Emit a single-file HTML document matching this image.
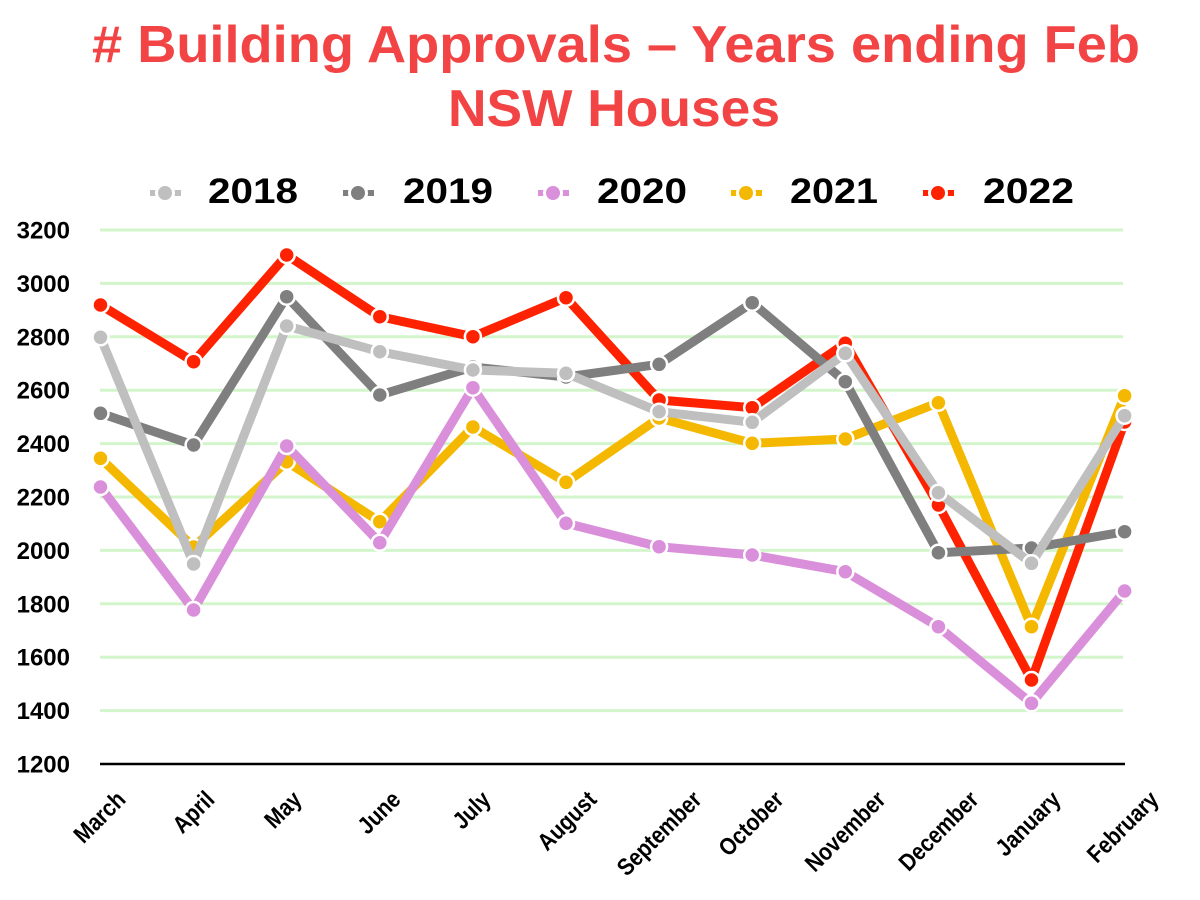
<!DOCTYPE html>
<html>
<head>
<meta charset="utf-8">
<style>
  html, body { margin: 0; padding: 0; background: #ffffff; }
  svg { display: block; }
  text { font-family: "Liberation Sans", Arial, sans-serif; font-weight: bold; }
</style>
</head>
<body>
<svg width="1200" height="900" viewBox="0 0 1200 900" xmlns="http://www.w3.org/2000/svg">
  <rect x="0" y="0" width="1200" height="900" fill="#ffffff"/>

  <!-- Title -->
  <text x="92" y="62" font-size="52" fill="#f24444" textLength="1048" lengthAdjust="spacingAndGlyphs"># Building Approvals – Years ending Feb</text>
  <text x="448" y="126" font-size="52" fill="#f24444" textLength="332" lengthAdjust="spacingAndGlyphs">NSW Houses</text>

  <!-- Legend -->
  <g>
    <line x1="150" y1="193" x2="181" y2="193" stroke="#bfbfbf" stroke-width="6"/>
    <circle cx="165" cy="193" r="8.5" fill="#bfbfbf" stroke="#fff" stroke-width="3"/>
    <text x="208" y="203" font-size="35" fill="#000" textLength="90" lengthAdjust="spacingAndGlyphs">2018</text>

    <line x1="343" y1="193" x2="374" y2="193" stroke="#7f7f7f" stroke-width="6"/>
    <circle cx="358" cy="193" r="8.5" fill="#7f7f7f" stroke="#fff" stroke-width="3"/>
    <text x="403" y="203" font-size="35" fill="#000" textLength="90" lengthAdjust="spacingAndGlyphs">2019</text>

    <line x1="538" y1="193" x2="569" y2="193" stroke="#d98fd9" stroke-width="6"/>
    <circle cx="553" cy="193" r="8.5" fill="#d98fd9" stroke="#fff" stroke-width="3"/>
    <text x="597" y="203" font-size="35" fill="#000" textLength="90" lengthAdjust="spacingAndGlyphs">2020</text>

    <line x1="731" y1="193" x2="762" y2="193" stroke="#f5b800" stroke-width="6"/>
    <circle cx="746" cy="193" r="8.5" fill="#f5b800" stroke="#fff" stroke-width="3"/>
    <text x="790" y="203" font-size="35" fill="#000" textLength="88" lengthAdjust="spacingAndGlyphs">2021</text>

    <line x1="923" y1="193" x2="954" y2="193" stroke="#ff2200" stroke-width="6"/>
    <circle cx="938" cy="193" r="8.5" fill="#ff2200" stroke="#fff" stroke-width="3"/>
    <text x="983" y="203" font-size="35" fill="#000" textLength="91" lengthAdjust="spacingAndGlyphs">2022</text>
  </g>

  <!-- Gridlines -->
  <g stroke="#d3f5cb" stroke-width="3">
    <line x1="100" y1="230" x2="1123" y2="230"/>
    <line x1="100" y1="283.4" x2="1123" y2="283.4"/>
    <line x1="100" y1="336.8" x2="1123" y2="336.8"/>
    <line x1="100" y1="390.2" x2="1123" y2="390.2"/>
    <line x1="100" y1="443.6" x2="1123" y2="443.6"/>
    <line x1="100" y1="497" x2="1123" y2="497"/>
    <line x1="100" y1="550.4" x2="1123" y2="550.4"/>
    <line x1="100" y1="603.8" x2="1123" y2="603.8"/>
    <line x1="100" y1="657.2" x2="1123" y2="657.2"/>
    <line x1="100" y1="710.6" x2="1123" y2="710.6"/>
  </g>
  <line x1="100" y1="764" x2="1125" y2="764" stroke="#000" stroke-width="2.5"/>

  <!-- Y labels -->
  <g font-size="24" fill="#000" text-anchor="end">
    <text x="70" y="238.5">3200</text>
    <text x="70" y="291.9">3000</text>
    <text x="70" y="345.3">2800</text>
    <text x="70" y="398.7">2600</text>
    <text x="70" y="452.1">2400</text>
    <text x="70" y="505.5">2200</text>
    <text x="70" y="558.9">2000</text>
    <text x="70" y="612.3">1800</text>
    <text x="70" y="665.7">1600</text>
    <text x="70" y="719.1">1400</text>
    <text x="70" y="772.5">1200</text>
  </g>

  <!-- X labels -->
  <g font-size="24" fill="#000" text-anchor="end">
    <text transform="translate(127,801) rotate(-45) scale(0.87,1)">March</text>
    <text transform="translate(216,801) rotate(-45) scale(0.87,1)">April</text>
    <text transform="translate(303,801) rotate(-45) scale(0.87,1)">May</text>
    <text transform="translate(402,801) rotate(-45) scale(0.87,1)">June</text>
    <text transform="translate(492,801) rotate(-45) scale(0.87,1)">July</text>
    <text transform="translate(598,801) rotate(-45) scale(0.87,1)">August</text>
    <text transform="translate(703,801) rotate(-45) scale(0.87,1)">September</text>
    <text transform="translate(785,801) rotate(-45) scale(0.87,1)">October</text>
    <text transform="translate(887,801) rotate(-45) scale(0.87,1)">November</text>
    <text transform="translate(980,801) rotate(-45) scale(0.87,1)">December</text>
    <text transform="translate(1062,801) rotate(-45) scale(0.87,1)">January</text>
    <text transform="translate(1160,801) rotate(-45) scale(0.87,1)">February</text>
  </g>

  <!-- Series (drawn 2022 first, 2018 on top) -->
  <!-- 2022 red -->
  <g>
    <polyline fill="none" stroke="#ff2200" stroke-width="9" stroke-linejoin="round"
      points="100.5,305 193.6,361.7 286.7,255 379.8,316.7 472.9,336.7 566,297.7 659.1,400 752.2,407.7 845.3,343.3 938.4,505 1031.5,680 1124.6,422"/>
    <g fill="#ff2200" stroke="#fff" stroke-width="2.5">
      <circle cx="100.5" cy="305" r="8"/><circle cx="193.6" cy="361.7" r="8"/><circle cx="286.7" cy="255" r="8"/>
      <circle cx="379.8" cy="316.7" r="8"/><circle cx="472.9" cy="336.7" r="8"/><circle cx="566" cy="297.7" r="8"/>
      <circle cx="659.1" cy="400" r="8"/><circle cx="752.2" cy="407.7" r="8"/><circle cx="845.3" cy="343.3" r="8"/>
      <circle cx="938.4" cy="505" r="8"/><circle cx="1031.5" cy="680" r="8"/><circle cx="1124.6" cy="422" r="8"/>
    </g>
  </g>
  <!-- 2021 yellow -->
  <g>
    <polyline fill="none" stroke="#f5b800" stroke-width="9" stroke-linejoin="round"
      points="100.5,458.3 193.6,547 286.7,461.7 379.8,521.7 472.9,427 566,482.3 659.1,418 752.2,443.3 845.3,439 938.4,402.7 1031.5,626.7 1124.6,395.7"/>
    <g fill="#f5b800" stroke="#fff" stroke-width="2.5">
      <circle cx="100.5" cy="458.3" r="8"/><circle cx="193.6" cy="547" r="8"/><circle cx="286.7" cy="461.7" r="8"/>
      <circle cx="379.8" cy="521.7" r="8"/><circle cx="472.9" cy="427" r="8"/><circle cx="566" cy="482.3" r="8"/>
      <circle cx="659.1" cy="418" r="8"/><circle cx="752.2" cy="443.3" r="8"/><circle cx="845.3" cy="439" r="8"/>
      <circle cx="938.4" cy="402.7" r="8"/><circle cx="1031.5" cy="626.7" r="8"/><circle cx="1124.6" cy="395.7" r="8"/>
    </g>
  </g>
  <!-- 2020 pink -->
  <g>
    <polyline fill="none" stroke="#d98fd9" stroke-width="9" stroke-linejoin="round"
      points="100.5,487 193.6,610 286.7,446 379.8,542.7 472.9,387.7 566,523.3 659.1,546.7 752.2,555 845.3,571.7 938.4,626.7 1031.5,703.3 1124.6,591"/>
    <g fill="#d98fd9" stroke="#fff" stroke-width="2.5">
      <circle cx="100.5" cy="487" r="8"/><circle cx="193.6" cy="610" r="8"/><circle cx="286.7" cy="446" r="8"/>
      <circle cx="379.8" cy="542.7" r="8"/><circle cx="472.9" cy="387.7" r="8"/><circle cx="566" cy="523.3" r="8"/>
      <circle cx="659.1" cy="546.7" r="8"/><circle cx="752.2" cy="555" r="8"/><circle cx="845.3" cy="571.7" r="8"/>
      <circle cx="938.4" cy="626.7" r="8"/><circle cx="1031.5" cy="703.3" r="8"/><circle cx="1124.6" cy="591" r="8"/>
    </g>
  </g>
  <!-- 2019 dark gray -->
  <g>
    <polyline fill="none" stroke="#7f7f7f" stroke-width="9" stroke-linejoin="round"
      points="100.5,413.3 193.6,445 286.7,296.7 379.8,395 472.9,367 566,377 659.1,364.3 752.2,302.7 845.3,381.7 938.4,552.7 1031.5,548 1124.6,531.7"/>
    <g fill="#7f7f7f" stroke="#fff" stroke-width="2.5">
      <circle cx="100.5" cy="413.3" r="8"/><circle cx="193.6" cy="445" r="8"/><circle cx="286.7" cy="296.7" r="8"/>
      <circle cx="379.8" cy="395" r="8"/><circle cx="472.9" cy="367" r="8"/><circle cx="566" cy="377" r="8"/>
      <circle cx="659.1" cy="364.3" r="8"/><circle cx="752.2" cy="302.7" r="8"/><circle cx="845.3" cy="381.7" r="8"/>
      <circle cx="938.4" cy="552.7" r="8"/><circle cx="1031.5" cy="548" r="8"/><circle cx="1124.6" cy="531.7" r="8"/>
    </g>
  </g>
  <!-- 2018 light gray -->
  <g>
    <polyline fill="none" stroke="#bfbfbf" stroke-width="9" stroke-linejoin="round"
      points="100.5,337.3 193.6,564 286.7,326 379.8,351.7 472.9,370 566,373.3 659.1,411.7 752.2,422.3 845.3,353.3 938.4,492.7 1031.5,563.3 1124.6,415.7"/>
    <g fill="#bfbfbf" stroke="#fff" stroke-width="2.5">
      <circle cx="100.5" cy="337.3" r="8"/><circle cx="193.6" cy="564" r="8"/><circle cx="286.7" cy="326" r="8"/>
      <circle cx="379.8" cy="351.7" r="8"/><circle cx="472.9" cy="370" r="8"/><circle cx="566" cy="373.3" r="8"/>
      <circle cx="659.1" cy="411.7" r="8"/><circle cx="752.2" cy="422.3" r="8"/><circle cx="845.3" cy="353.3" r="8"/>
      <circle cx="938.4" cy="492.7" r="8"/><circle cx="1031.5" cy="563.3" r="8"/><circle cx="1124.6" cy="415.7" r="8"/>
    </g>
  </g>
</svg>
</body>
</html>
